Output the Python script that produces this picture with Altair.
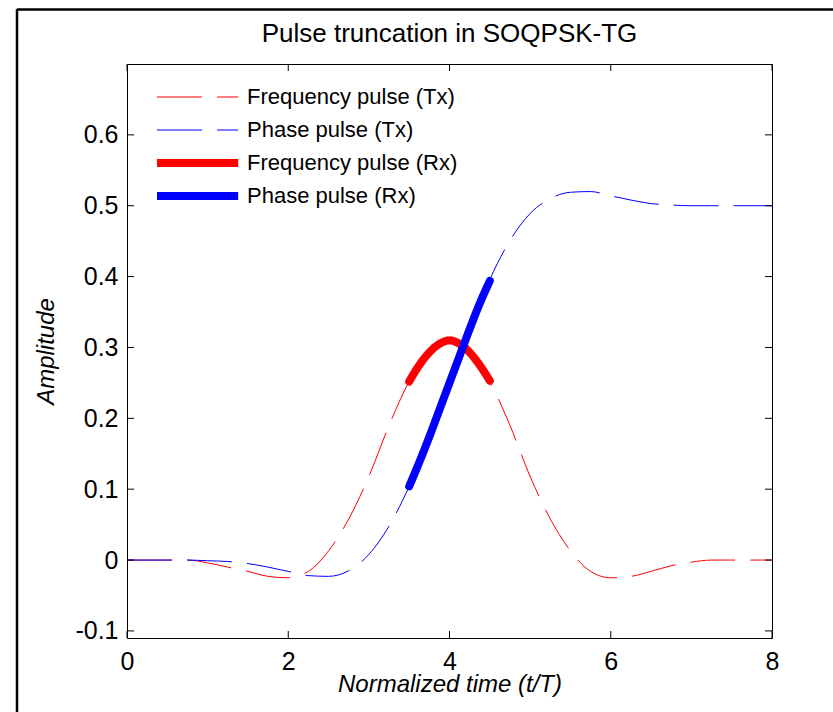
import altair as alt
import pandas as pd

FONT = "Liberation Sans"

# ---- data ----
time_tx = [0, 0.25, 0.5, 0.75, 1.0, 1.25, 1.5, 1.75, 2.0, 2.25, 2.5, 2.75, 3.0, 3.25,
           3.5, 3.75, 4.0, 4.25, 4.5, 4.75, 5.0, 5.25, 5.5, 5.75, 6.0, 6.25, 6.5,
           6.75, 7.0, 7.25, 7.5, 7.75, 8.0]
freq_tx = [0, 0, 0, 0, -0.004, -0.010, -0.016, -0.023, -0.025, -0.016, 0.013, 0.058,
           0.118, 0.190, 0.252, 0.293, 0.310, 0.293, 0.252, 0.190, 0.118, 0.058,
           0.013, -0.016, -0.025, -0.023, -0.016, -0.008, -0.003, 0, 0, 0, 0]
phase_tx = [0, 0, 0, 0, -0.001, -0.002, -0.005, -0.010, -0.016, -0.022, -0.023,
            -0.015, 0.008, 0.048, 0.104, 0.174, 0.250, 0.326, 0.396, 0.451, 0.489,
            0.510, 0.519, 0.520, 0.514, 0.508, 0.503, 0.501, 0.500, 0.500, 0.500,
            0.500, 0.500]

time_rx = [3.5, 3.625, 3.75, 3.875, 4.0, 4.125, 4.25, 4.375, 4.5]
freq_rx = [0.252, 0.275, 0.293, 0.305, 0.310, 0.305, 0.293, 0.275, 0.253]
phase_rx = [0.104, 0.138, 0.174, 0.212, 0.250, 0.288, 0.326, 0.362, 0.394]

SERIES = ["Frequency pulse (Tx)", "Phase pulse (Tx)",
          "Frequency pulse (Rx)", "Phase pulse (Rx)"]
COLORS = ["#ff0000", "#0000ff", "#ff0000", "#0000ff"]
DASHES = [[45, 15], [45, 15], [1, 0], [1, 0]]
WIDTHS = [1, 1, 8, 8]

x_ticks = [0, 2, 4, 6, 8]
y_ticks = [-0.1, 0, 0.1, 0.2, 0.3, 0.4, 0.5, 0.6]

# ---- tables ----
def table(ts, vs, name):
    return pd.DataFrame({"t": ts, "amp": vs, "series": [name] * len(ts)})

tx_df = pd.concat([table(time_tx, freq_tx, SERIES[0]),
                   table(time_tx, phase_tx, SERIES[1])], ignore_index=True)
rxf_df = table(time_rx, freq_rx, SERIES[2])
rxp_df = table(time_rx, phase_rx, SERIES[3])
xt_df = pd.DataFrame({"t": x_ticks})
yt_df = pd.DataFrame({"amp": y_ticks})

W, H = 645, 574

xscale = alt.Scale(domain=[0, 8], nice=False, zero=False)
yscale = alt.Scale(domain=[-0.11, 0.7], nice=False, zero=False)

xaxis = alt.Axis(values=x_ticks, title="Normalized time (t/T)", ticks=False, tickSize=0,
                 domain=False, grid=False, labelFontSize=25, labelFont=FONT,
                 labelColor="black", labelPadding=31, labelBaseline="alphabetic",
                 labelFlush=False, labelOverlap=False, format="d",
                 titleFontSize=24, titleFont=FONT, titleFontStyle="italic",
                 titleFontWeight="normal", titleColor="black",
                 titleBaseline="alphabetic", titleY=53)
yaxis = alt.Axis(values=y_ticks, title="Amplitude", ticks=False, tickSize=0,
                 domain=False, grid=False, labelFontSize=25, labelFont=FONT,
                 labelColor="black", labelPadding=9, labelBaseline="middle",
                 labelFlush=False, labelOverlap=False,
                 labelExpr="datum.value == 0 ? '0' : (datum.value < 0 ? '-' + format(-datum.value, '.1f') : format(datum.value, '.1f'))",
                 titleFontSize=24, titleFont=FONT, titleFontStyle="italic",
                 titleFontWeight="normal", titleColor="black",
                 titleBaseline="alphabetic", titleAngle=270, titleX=-74, titleY=287,
                 titleAlign="center")

X = alt.X("t:Q", scale=xscale, axis=xaxis)
Y = alt.Y("amp:Q", scale=yscale, axis=yaxis)

legend = alt.Legend(title=None, orient="none", legendX=19, legendY=22,
                    symbolType="M0,0H11.6", symbolSize=196, labelFontSize=22,
                    labelFont=FONT, labelColor="black", labelOffset=79,
                    labelLimit=500, clipHeight=22,
                    rowPadding=11, padding=0, symbolFillColor="transparent")

enc_series = dict(
    color=alt.Color("series:N", scale=alt.Scale(domain=SERIES, range=COLORS), legend=legend),
    strokeDash=alt.StrokeDash("series:N", scale=alt.Scale(domain=SERIES, range=DASHES), legend=legend),
    strokeWidth=alt.StrokeWidth("series:N", scale=alt.Scale(type="ordinal", domain=SERIES, range=WIDTHS), legend=legend),
)

tx = alt.Chart(tx_df).mark_line(interpolate="monotone").encode(
    x=X, y=Y, detail="series:N", **enc_series)
rxf = alt.Chart(rxf_df).mark_line(interpolate="monotone", strokeCap="round").encode(
    x=X, y=Y, **enc_series)
rxp = alt.Chart(rxp_df).mark_line(interpolate="monotone", strokeCap="round").encode(
    x=X, y=Y, **enc_series)

tick_top = alt.Chart(xt_df).mark_rule(color="black", strokeWidth=1).encode(
    x=X, y=alt.value(0), y2=alt.value(7))
tick_bot = alt.Chart(xt_df).mark_rule(color="black", strokeWidth=1).encode(
    x=X, y=alt.value(H - 7), y2=alt.value(H))
tick_left = alt.Chart(yt_df).mark_rule(color="black", strokeWidth=1).encode(
    y=Y, x=alt.value(0), x2=alt.value(7))
tick_right = alt.Chart(yt_df).mark_rule(color="black", strokeWidth=1).encode(
    y=Y, x=alt.value(W - 7), x2=alt.value(W))

one = pd.DataFrame({"k": [0]})
frame_top = alt.Chart(one).mark_rule(color="black", strokeWidth=2.5).encode(
    x=alt.value(-110), x2=alt.value(720), y=alt.value(-54.5))
frame_left = alt.Chart(one).mark_rule(color="black", strokeWidth=2.5).encode(
    x=alt.value(-110), y=alt.value(-55), y2=alt.value(660))

chart = alt.layer(
    tx, rxf, rxp, tick_top, tick_bot, tick_left, tick_right, frame_top, frame_left
).properties(
    width=W, height=H,
    autosize=alt.AutoSizeParams(type="none"),
    padding={"left": 127, "top": 64, "right": 61, "bottom": 74},
    title=alt.Title("Pulse truncation in SOQPSK-TG", fontSize=26, font=FONT,
                    fontWeight="normal", color="black", anchor="middle",
                    frame="group", baseline="alphabetic", offset=-26, dy=34),
).configure(background="white").configure_view(stroke="black", strokeWidth=1)

chart.save("out.html", embed_options={"renderer": "svg", "actions": False})
